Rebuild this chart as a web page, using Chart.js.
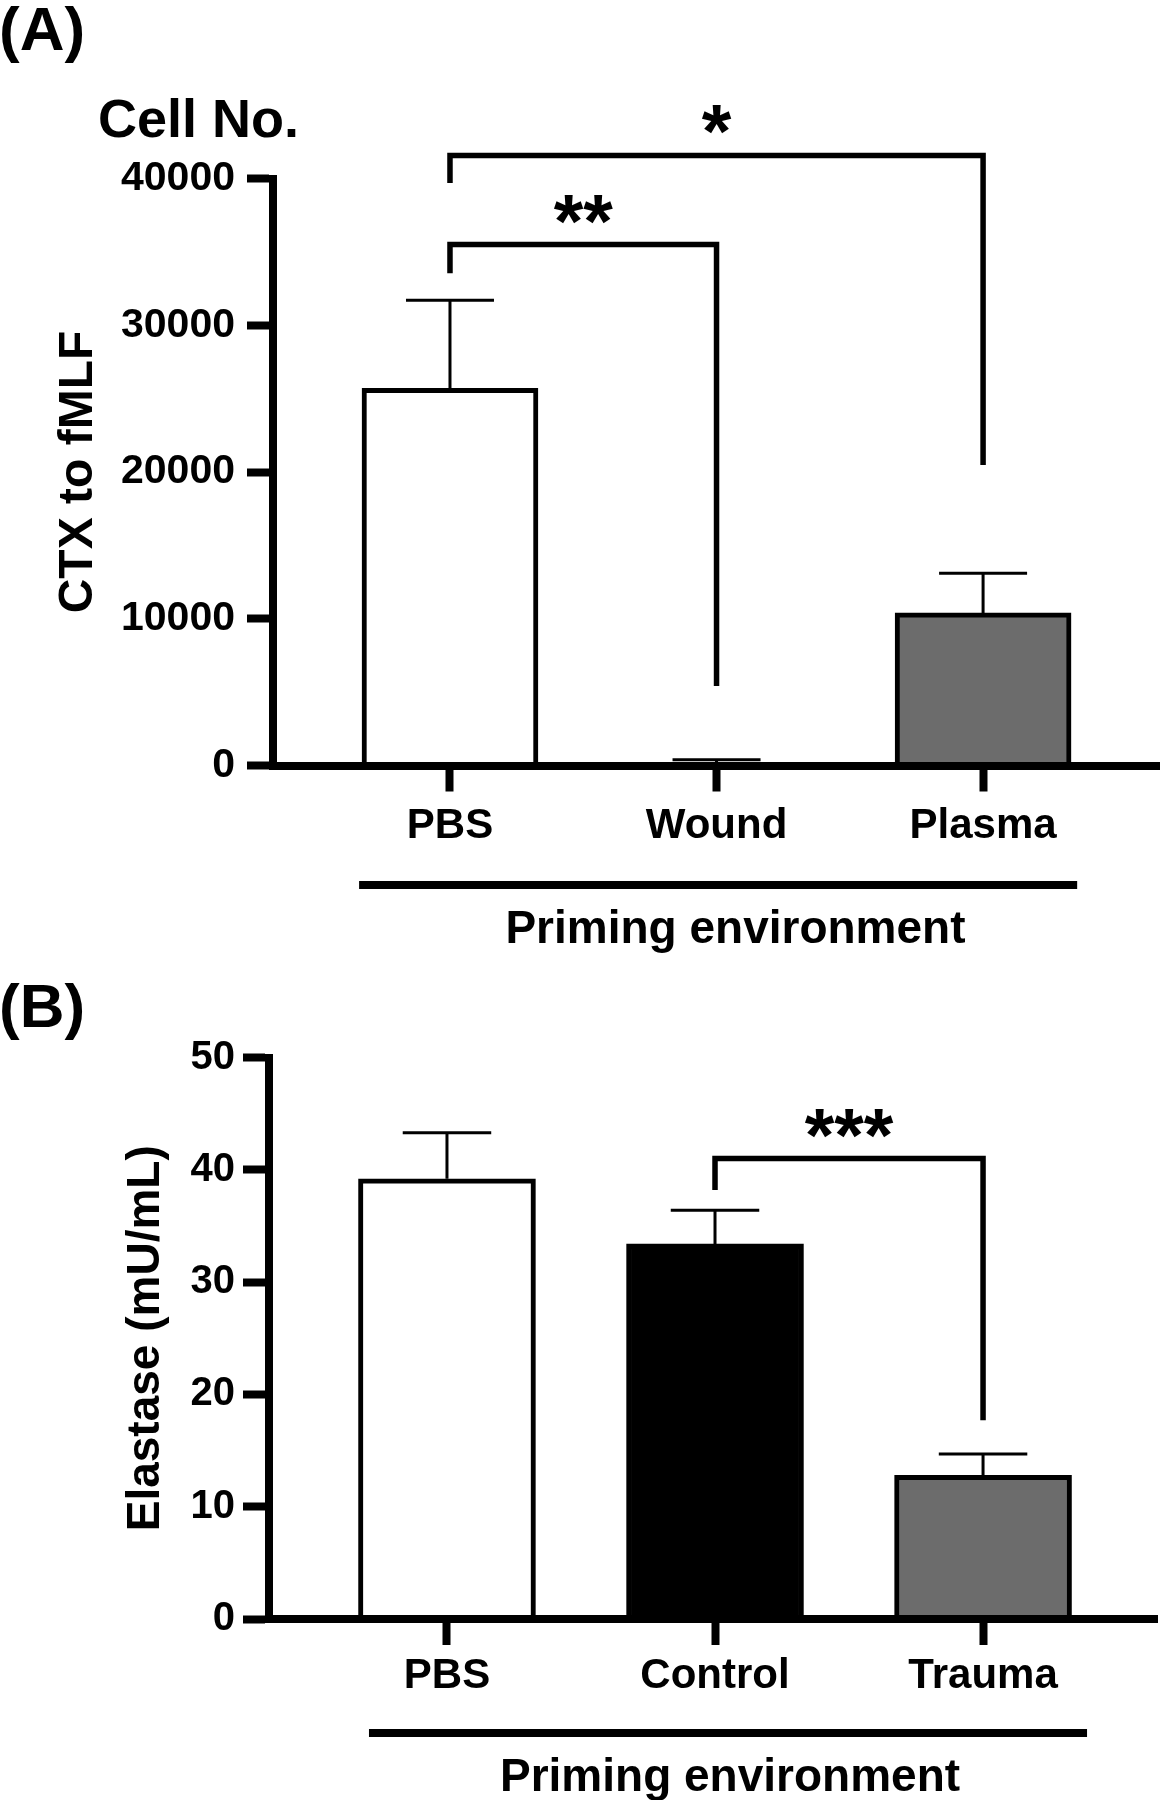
<!DOCTYPE html>
<html>
<head>
<meta charset="utf-8">
<script src="https://cdn.jsdelivr.net/npm/chart.js@4.4.1/dist/chart.umd.min.js"></script>
<style>
  html, body { margin: 0; padding: 0; background: #fff; }
  canvas { display: block; }
</style>
</head>
<body>
<canvas id="panel-a" width="1167" height="960"></canvas>
<canvas id="panel-b" width="1167" height="840"></canvas>
<script>
// (A) chemotaxis to fMLF, cell number
const catsA = ["PBS", "Wound", "Plasma"];
const meansA = [25700, 150, 10400];
const semA = [6000, 250, 2700];
const ticksA = [0, 10000, 20000, 30000, 40000];
const starsA = ["**", "*"];

// (B) elastase release
const catsB = ["PBS", "Control", "Trauma"];
const meansB = [39.2, 33.4, 12.8];
const semB = [4.1, 3.0, 1.9];
const ticksB = [0, 10, 20, 30, 40, 50];
const starsB = ["***"];

const FONT = "'Liberation Sans', Arial, Helvetica, sans-serif";
Chart.defaults.color = "#000";
Chart.defaults.font.family = FONT;
Chart.defaults.font.weight = "bold";

function buildPanel(canvasId, p) {
    const decor = {
        id: "decor",
        afterDatasetsDraw(chart) {
            // error bars, upper half only
            const { ctx, scales: { x, y } } = chart;
            ctx.save();
            ctx.strokeStyle = "#000";
            ctx.lineWidth = 3;
            p.means.forEach((m, i) => {
                const cx = x.getPixelForValue(i);
                const yTop = y.getPixelForValue(m + p.errors[i]);
                ctx.beginPath();
                ctx.moveTo(cx, y.getPixelForValue(m));
                ctx.lineTo(cx, yTop);
                ctx.moveTo(cx - p.barWidth / 4, yTop);
                ctx.lineTo(cx + p.barWidth / 4, yTop);
                ctx.stroke();
            });
            ctx.restore();
        },
        afterDraw(chart) {
            const { ctx, chartArea, scales: { x, y } } = chart;
            ctx.save();
            ctx.strokeStyle = "#000";
            ctx.fillStyle = "#000";
            ctx.lineJoin = "miter";
            ctx.lineCap = "butt";

            // significance brackets
            p.brackets.forEach((b, i) => {
                const x1 = x.getPixelForValue(b.from);
                const x2 = x.getPixelForValue(b.to);
                const yb = y.getPixelForValue(b.level);
                ctx.lineWidth = 5.5;
                ctx.beginPath();
                ctx.moveTo(x1, y.getPixelForValue(b.ends[0]));
                ctx.lineTo(x1, yb);
                ctx.lineTo(x2, yb);
                ctx.lineTo(x2, y.getPixelForValue(b.ends[1]));
                ctx.stroke();
                ctx.font = "bold 76px " + FONT;
                ctx.textAlign = "center";
                ctx.textBaseline = "alphabetic";
                ctx.fillText(p.stars[i], (x1 + x2) / 2, yb + 2);
            });

            // grouping line + label under the categories
            const gy = chartArea.bottom + p.groupLineOffset;
            ctx.lineWidth = 8;
            ctx.beginPath();
            ctx.moveTo(x.getPixelForValue(p.groupSpan[0]), gy);
            ctx.lineTo(x.getPixelForValue(p.groupSpan[1]), gy);
            ctx.stroke();
            ctx.font = "bold 46px " + FONT;
            ctx.textAlign = "center";
            ctx.textBaseline = "alphabetic";
            ctx.fillText("Priming environment", x.getPixelForValue(p.groupTitleAt), gy + 58);

            // panel letter
            ctx.textAlign = "left";
            ctx.font = "bold 62px " + FONT;
            ctx.fillText(p.letter, -1, p.letterBaseline);

            if (p.unitLabel) {
                ctx.font = "bold 54px " + FONT;
                ctx.fillText(p.unitLabel, 98, 137);
            }
            ctx.restore();
        }
    };

    const canvas = document.getElementById(canvasId);
    return new Chart(canvas, {
        type: "bar",
        data: {
            datasets: [{
                data: p.means.map((m, i) => ({ x: i, y: m })),
                backgroundColor: p.fills,
                borderColor: "#000",
                borderWidth: 5,
                borderSkipped: "start",
                barThickness: p.barWidth
            }]
        },
        options: {
            responsive: false,
            animation: false,
            layout: { padding: { top: p.top, left: 0, right: p.right, bottom: 0 } },
            plugins: { legend: { display: false }, tooltip: { enabled: false } },
            scales: {
                x: {
                    type: "linear",
                    bounds: "data",
                    offset: false,
                    min: p.xRange[0],
                    max: p.xRange[1],
                    afterBuildTicks: s => { s.ticks = p.cats.map((c, i) => ({ value: i })); },
                    afterFit: s => { s.height = p.xHeight; },
                    border: { display: true, color: "#000", width: 8, z: 1 },
                    grid: { display: true, offset: false, drawOnChartArea: false, drawTicks: true,
                            tickLength: 26, tickWidth: 8, tickColor: "#000" },
                    ticks: {
                        autoSkip: false, maxRotation: 0, padding: p.xPad,
                        font: { size: 42, weight: "bold", lineHeight: 1.2 },
                        callback: v => p.cats[v] ?? ""
                    }
                },
                y: {
                    min: p.ticks[0],
                    max: p.ticks[p.ticks.length - 1],
                    afterBuildTicks: s => { s.ticks = p.ticks.map(v => ({ value: v })); },
                    afterFit: s => { s.width = p.yWidth; },
                    border: { display: true, color: "#000", width: 8, z: 1 },
                    grid: { display: true, drawOnChartArea: false, drawTicks: true,
                            tickLength: 26, tickWidth: 8, tickColor: "#000" },
                    ticks: {
                        padding: p.yPad,
                        font: { size: p.yTickSize, weight: "bold" },
                        callback: v => String(v)
                    },
                    title: {
                        display: true,
                        text: p.yTitle,
                        font: { size: p.yTitleSize, weight: "bold", lineHeight: 1.2 },
                        padding: { top: p.yTitlePad, bottom: 0 }
                    }
                }
            }
        },
        plugins: [decor]
    });
}

buildPanel("panel-a", {
    cats: catsA, means: meansA, errors: semA, ticks: ticksA, stars: starsA,
    fills: ["#ffffff", "#ffffff", "#6c6c6c"],
    barWidth: 176,
    top: 178.5, right: 8, xHeight: 194.5, yWidth: 273,
    xRange: [-0.664, 2.660],
    xPad: 10, yPad: 12, yTickSize: 41,
    yTitle: "CTX to fMLF", yTitleSize: 48, yTitlePad: 50,
    brackets: [
        { from: 0, to: 1, level: 35500, ends: [33550, 5420] },
        { from: 0, to: 2, level: 41570, ends: [39690, 20480] }
    ],
    groupSpan: [-0.341, 2.353], groupLineOffset: 119.5, groupTitleAt: 1.071,
    letter: "(A)", letterBaseline: 50,
    unitLabel: "Cell No."
});

buildPanel("panel-b", {
    cats: catsB, means: meansB, errors: semB, ticks: ticksB, stars: starsB,
    fills: ["#ffffff", "#000000", "#6c6c6c"],
    barWidth: 177,
    top: 97.5, right: 10, xHeight: 181, yWidth: 269,
    xRange: [-0.664, 2.649],
    xPad: 6, yPad: 8, yTickSize: 40,
    yTitle: "Elastase (mU/mL)", yTitleSize: 46, yTitlePad: 119,
    brackets: [
        { from: 1, to: 2, level: 41.0, ends: [38.2, 17.7] }
    ],
    groupSpan: [-0.291, 2.388], groupLineOffset: 114, groupTitleAt: 1.056,
    letter: "(B)", letterBaseline: 67,
    unitLabel: null
});
</script>
</body>
</html>
